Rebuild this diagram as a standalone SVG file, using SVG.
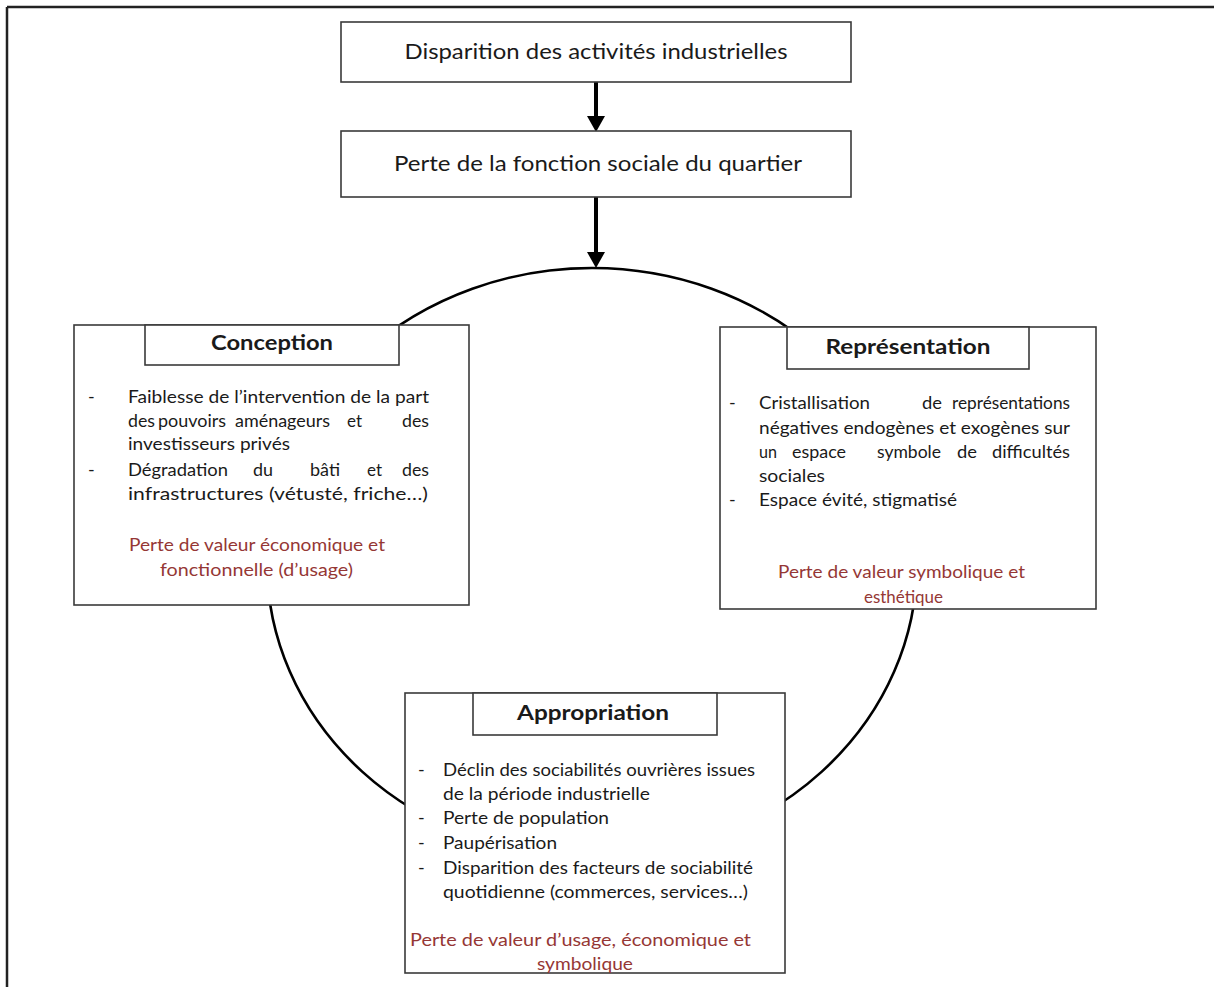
<svg xmlns="http://www.w3.org/2000/svg" width="1214" height="987" viewBox="0 0 1214 987">
<style>
  .box{fill:#fff;stroke:#3a3a3a;stroke-width:1.6}
  .t{font-family:Lato,"Open Sans","Liberation Sans",sans-serif;fill:#1a1a1a}
  .big{font-size:21px}
  .ttl{font-size:21px;font-weight:bold;text-anchor:middle}
  .b{font-size:18px}
  .red{font-size:18px;fill:#953735}
  .c{text-anchor:middle}
  .conn{fill:none;stroke:#000}
</style>
<defs>
  <marker id="ah" viewBox="0 0 16 18" refX="0" refY="9" markerWidth="16" markerHeight="18" markerUnits="userSpaceOnUse" orient="auto">
    <path d="M0,0 L16,9 L0,18 z" fill="#000"/>
  </marker>
</defs>
<rect width="1214" height="987" fill="#fff"/>
<g id="frame" stroke="#222" stroke-width="2.5" fill="none">
  <line x1="7" y1="7" x2="1214" y2="7"/>
  <line x1="7" y1="7" x2="7" y2="987"/>
</g>
<g id="connectors">
  <ellipse class="conn" cx="592" cy="563" rx="325" ry="295" stroke-width="2.6"/>
  <line class="conn" x1="596" y1="82" x2="596" y2="116" stroke-width="4" marker-end="url(#ah)"/>
  <line class="conn" x1="596" y1="197" x2="596" y2="252" stroke-width="4" marker-end="url(#ah)"/>
</g>
<g id="n-disparition">
  <rect class="box" x="341" y="22" width="510" height="60"/>
  <text class="t big c" x="596" y="59" textLength="383" lengthAdjust="spacingAndGlyphs">Disparition des activités industrielles</text>
</g>
<g id="n-perte">
  <rect class="box" x="341" y="131" width="510" height="66"/>
  <text class="t big c" x="598" y="171" textLength="408" lengthAdjust="spacingAndGlyphs">Perte de la fonction sociale du quartier</text>
</g>
<g id="n-conception">
  <rect class="box" x="74" y="325" width="395" height="280"/>
  <rect class="box" x="145" y="325" width="254" height="40"/>
  <text class="t ttl" x="272" y="350" textLength="122" lengthAdjust="spacingAndGlyphs">Conception</text>
  <text class="t b" x="88" y="403">-</text>
  <text class="t b" x="128" y="403" textLength="301" lengthAdjust="spacingAndGlyphs">Faiblesse de l’intervention de la part</text>
  <text class="t b" x="128" y="427" textLength="27" lengthAdjust="spacingAndGlyphs">des</text>
  <text class="t b" x="158" y="427" textLength="68" lengthAdjust="spacingAndGlyphs">pouvoirs</text>
  <text class="t b" x="235" y="427" textLength="95" lengthAdjust="spacingAndGlyphs">aménageurs</text>
  <text class="t b" x="347" y="427" textLength="15" lengthAdjust="spacingAndGlyphs">et</text>
  <text class="t b" x="402" y="427" textLength="27" lengthAdjust="spacingAndGlyphs">des</text>
  <text class="t b" x="128" y="450" textLength="162" lengthAdjust="spacingAndGlyphs">investisseurs privés</text>
  <text class="t b" x="88" y="476">-</text>
  <text class="t b" x="128" y="476" textLength="100" lengthAdjust="spacingAndGlyphs">Dégradation</text>
  <text class="t b" x="253" y="476" textLength="20" lengthAdjust="spacingAndGlyphs">du</text>
  <text class="t b" x="310" y="476" textLength="30" lengthAdjust="spacingAndGlyphs">bâti</text>
  <text class="t b" x="367" y="476" textLength="15" lengthAdjust="spacingAndGlyphs">et</text>
  <text class="t b" x="402" y="476" textLength="27" lengthAdjust="spacingAndGlyphs">des</text>
  <text class="t b" x="128" y="500" textLength="300" lengthAdjust="spacingAndGlyphs">infrastructures (vétusté, friche…)</text>
  <text class="t red" x="129" y="551" textLength="256" lengthAdjust="spacingAndGlyphs">Perte de valeur économique et</text>
  <text class="t red" x="160" y="576" textLength="193" lengthAdjust="spacingAndGlyphs">fonctionnelle (d’usage)</text>
</g>
<g id="n-representation">
  <rect class="box" x="720" y="327" width="376" height="282"/>
  <rect class="box" x="787" y="327" width="242" height="42"/>
  <text class="t ttl" x="908" y="354" textLength="165" lengthAdjust="spacingAndGlyphs">Représentation</text>
  <text class="t b" x="729" y="409">-</text>
  <text class="t b" x="759" y="409" textLength="111" lengthAdjust="spacingAndGlyphs">Cristallisation</text>
  <text class="t b" x="922" y="409" textLength="20" lengthAdjust="spacingAndGlyphs">de</text>
  <text class="t b" x="952" y="409" textLength="118" lengthAdjust="spacingAndGlyphs">représentations</text>
  <text class="t b" x="759" y="434" textLength="311" lengthAdjust="spacingAndGlyphs">négatives endogènes et exogènes sur</text>
  <text class="t b" x="759" y="458" textLength="18" lengthAdjust="spacingAndGlyphs">un</text>
  <text class="t b" x="792" y="458" textLength="54" lengthAdjust="spacingAndGlyphs">espace</text>
  <text class="t b" x="877" y="458" textLength="64" lengthAdjust="spacingAndGlyphs">symbole</text>
  <text class="t b" x="957" y="458" textLength="20" lengthAdjust="spacingAndGlyphs">de</text>
  <text class="t b" x="992" y="458" textLength="78" lengthAdjust="spacingAndGlyphs">difficultés</text>
  <text class="t b" x="759" y="482" textLength="66" lengthAdjust="spacingAndGlyphs">sociales</text>
  <text class="t b" x="729" y="506">-</text>
  <text class="t b" x="759" y="506" textLength="198" lengthAdjust="spacingAndGlyphs">Espace évité, stigmatisé</text>
  <text class="t red" x="778" y="578" textLength="247" lengthAdjust="spacingAndGlyphs">Perte de valeur symbolique et</text>
  <text class="t red" x="864" y="603" textLength="79" lengthAdjust="spacingAndGlyphs">esthétique</text>
</g>
<g id="n-appropriation">
  <rect class="box" x="405" y="693" width="380" height="280"/>
  <rect class="box" x="473" y="693" width="244" height="42"/>
  <text class="t ttl" x="593" y="720" textLength="152" lengthAdjust="spacingAndGlyphs">Appropriation</text>
  <text class="t b" x="418" y="776">-</text>
  <text class="t b" x="443" y="776" textLength="312" lengthAdjust="spacingAndGlyphs">Déclin des sociabilités ouvrières issues</text>
  <text class="t b" x="443" y="800" textLength="207" lengthAdjust="spacingAndGlyphs">de la période industrielle</text>
  <text class="t b" x="418" y="824">-</text>
  <text class="t b" x="443" y="824" textLength="166" lengthAdjust="spacingAndGlyphs">Perte de population</text>
  <text class="t b" x="418" y="849">-</text>
  <text class="t b" x="443" y="849" textLength="114" lengthAdjust="spacingAndGlyphs">Paupérisation</text>
  <text class="t b" x="418" y="874">-</text>
  <text class="t b" x="443" y="874" textLength="310" lengthAdjust="spacingAndGlyphs">Disparition des facteurs de sociabilité</text>
  <text class="t b" x="443" y="898" textLength="305" lengthAdjust="spacingAndGlyphs">quotidienne (commerces, services…)</text>
  <text class="t red" x="410" y="946" textLength="341" lengthAdjust="spacingAndGlyphs">Perte de valeur d’usage, économique et</text>
  <text class="t red" x="537" y="970" textLength="96" lengthAdjust="spacingAndGlyphs">symbolique</text>
</g>
</svg>
